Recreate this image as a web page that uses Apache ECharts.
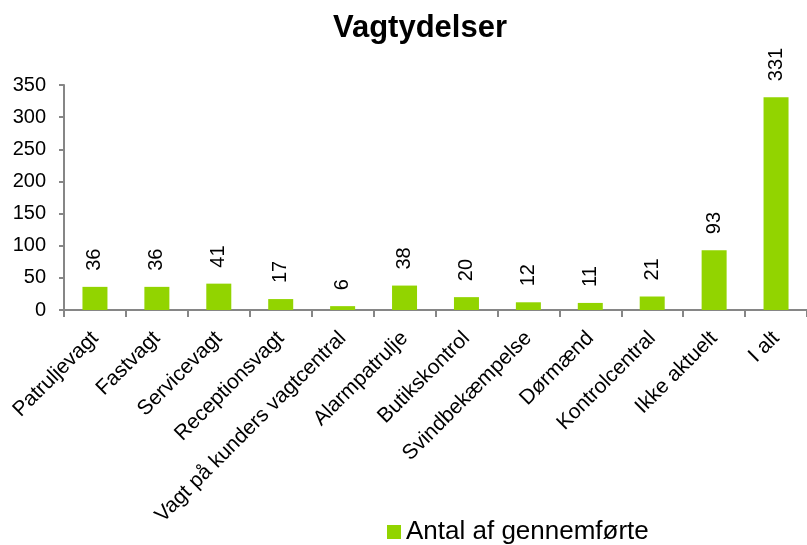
<!DOCTYPE html>
<html>
<head>
<meta charset="utf-8">
<script src="https://cdn.jsdelivr.net/npm/echarts@6/dist/echarts.min.js"></script>
<style>
  html, body { margin: 0; padding: 0; background: #fff; }
  #chart { width: 807px; height: 545px; }
</style>
</head>
<body>
<div id="chart"></div>
<script>
// data
const categories = [
  "Patruljevagt", "Fastvagt", "Servicevagt", "Receptionsvagt",
  "Vagt på kunders vagtcentral", "Alarmpatrulje", "Butikskontrol",
  "Svindbekæmpelse", "Dørmænd", "Kontrolcentral", "Ikke aktuelt", "I alt"
];
const antalValues = [36, 36, 41, 17, 6, 38, 20, 12, 11, 21, 93, 331];
const seriesName = "Antal af gennemførte";
const chartTitle = "Vagtydelser";

const FONT = "'Liberation Sans', Arial, sans-serif";
const GREEN = "#92d400";
const AXIS = "#868686";

const chart = echarts.init(document.getElementById("chart"));

chart.setOption({
  animation: false,
  title: {
    text: chartTitle,
    left: 415,
    top: 8,
    textAlign: "center",
    textStyle: { fontFamily: FONT, fontSize: 31, fontWeight: "bold", color: "#000" }
  },
  legend: {
    data: [seriesName],
    left: 382,
    top: 514,
    icon: "rect",
    itemWidth: 14,
    itemHeight: 14,
    itemGap: 6,
    textStyle: { fontFamily: FONT, fontSize: 26, color: "#000" }
  },
  grid: {
    left: 64,
    top: 85,
    width: 750,
    height: 225,
    containLabel: false
  },
  xAxis: {
    type: "category",
    data: categories,
    axisLine: { lineStyle: { color: AXIS, width: 2 } },
    axisTick: { show: true, length: 7, lineStyle: { color: AXIS, width: 2 } },
    axisLabel: {
      interval: 0,
      rotate: 45,
      margin: 25,
      fontFamily: FONT,
      fontSize: 21,
      color: "#000"
    }
  },
  yAxis: {
    type: "value",
    min: 0,
    max: 350,
    interval: 50,
    axisLine: { show: true, lineStyle: { color: AXIS, width: 2 } },
    axisTick: { show: true, length: 5, lineStyle: { color: AXIS, width: 2 } },
    splitLine: { show: false },
    axisLabel: { fontFamily: FONT, fontSize: 20, color: "#000", margin: 18 }
  },
  series: [{
    name: seriesName,
    type: "bar",
    data: antalValues,
    barWidth: 25,
    itemStyle: { color: GREEN },
    label: {
      show: true,
      position: "top",
      rotate: 90,
      align: "left",
      verticalAlign: "middle",
      distance: 16,
      fontFamily: FONT,
      fontSize: 20,
      color: "#000"
    }
  }]
});
</script>
</body>
</html>
